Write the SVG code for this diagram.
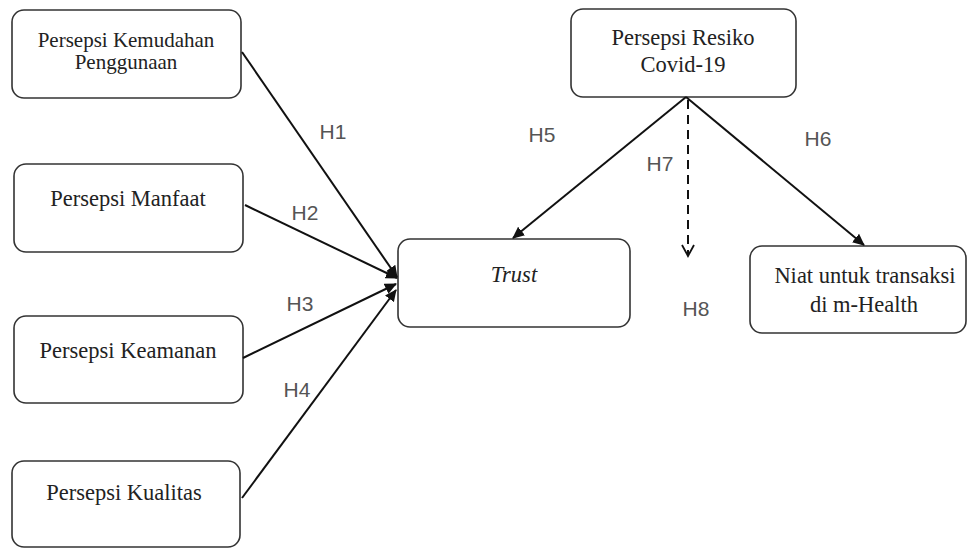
<svg xmlns="http://www.w3.org/2000/svg" width="968" height="548" viewBox="0 0 968 548">
<style>
.box{fill:#fff;stroke:#333;stroke-width:1.6}
.t{font-family:"Liberation Serif",serif;font-size:22.5px;fill:#222;text-anchor:middle}
.h{font-family:"Liberation Sans",Arial,sans-serif;font-size:21px;fill:#555;text-anchor:middle}
.c{stroke:#111;stroke-width:2;fill:none}
</style>
<defs>
<marker id="ah" markerWidth="12" markerHeight="12" refX="11" refY="6" orient="auto" markerUnits="userSpaceOnUse" viewBox="0 0 12 12"><path d="M0,0.5 L12,6 L0,11.5 z" fill="#111"/></marker>
<marker id="ov" markerWidth="14" markerHeight="14" refX="12" refY="7" orient="auto" markerUnits="userSpaceOnUse" viewBox="0 0 14 14"><path d="M1,1 L12,7 L1,13" fill="none" stroke="#111" stroke-width="1.8"/></marker>
</defs>
<g id="n1"><rect class="box" x="12" y="10" width="229" height="88" rx="12"/><text class="t" x="126" y="47" style="font-size:21px">Persepsi Kemudahan</text><text class="t" x="126" y="69" style="font-size:21px">Penggunaan</text></g>
<g id="n2"><rect class="box" x="14" y="164" width="229" height="88" rx="12"/><text class="t" x="128" y="206">Persepsi Manfaat</text></g>
<g id="n3"><rect class="box" x="14" y="316" width="229" height="87" rx="12"/><text class="t" x="128" y="358">Persepsi Keamanan</text></g>
<g id="n4"><rect class="box" x="12" y="461" width="228" height="86" rx="12"/><text class="t" x="124" y="500">Persepsi Kualitas</text></g>
<g id="n5"><rect class="box" x="571" y="9" width="225" height="88" rx="12"/><text class="t" x="683" y="45">Persepsi Resiko</text><text class="t" x="683" y="72">Covid-19</text></g>
<g id="n6"><rect class="box" x="398" y="239" width="232" height="88" rx="12"/><text class="t" x="514" y="282" style="font-style:italic">Trust</text></g>
<g id="n7"><rect class="box" x="750" y="246" width="216" height="87" rx="12"/><text class="t" x="865" y="283">Niat untuk transaksi</text><text class="t" x="864" y="312">di m-Health</text></g>
<g id="connectors">
<line class="c" x1="242" y1="52" x2="397" y2="277" marker-end="url(#ah)"/>
<line class="c" x1="245" y1="205" x2="397" y2="278" marker-end="url(#ah)"/>
<line class="c" x1="243" y1="358" x2="396" y2="284" marker-end="url(#ah)"/>
<line class="c" x1="242" y1="498" x2="396" y2="290" marker-end="url(#ah)"/>
<line class="c" x1="686" y1="97" x2="513" y2="238" marker-end="url(#ah)"/>
<line class="c" x1="686" y1="97" x2="864" y2="245" marker-end="url(#ah)"/>
<line class="c" x1="688" y1="100" x2="688" y2="256" stroke-dasharray="9,6" marker-end="url(#ov)"/>
</g>
<g id="labels">
<text class="h" x="333" y="139">H1</text>
<text class="h" x="305" y="220">H2</text>
<text class="h" x="300" y="311">H3</text>
<text class="h" x="297" y="397">H4</text>
<text class="h" x="542" y="142">H5</text>
<text class="h" x="818" y="146">H6</text>
<text class="h" x="660" y="171">H7</text>
<text class="h" x="696" y="316">H8</text>
</g>
</svg>
